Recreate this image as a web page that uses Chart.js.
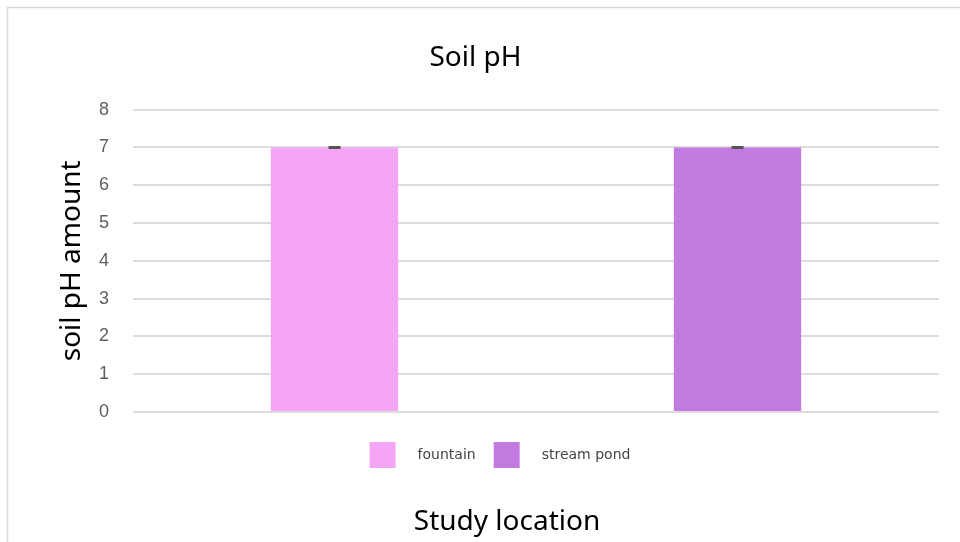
<!DOCTYPE html>
<html>
<head>
<meta charset="utf-8">
<script src="https://cdn.jsdelivr.net/npm/chart.js@4/dist/chart.umd.min.js"></script>
<style>
  html, body { margin: 0; padding: 0; background: #ffffff; }
  #wrap { width: 960px; height: 542px; position: relative; }
</style>
</head>
<body>
<div id="wrap"><canvas id="chart" width="960" height="542"></canvas></div>
<script>
// Study locations and their measured soil pH
const locations = ['fountain', 'stream pond'];
const phValues = [7, 7];
const phErrors = [0, 0];
const barColors = ['#f4a6f4', '#c27be0'];
const yTicks = [0, 1, 2, 3, 4, 5, 6, 7, 8];

const titleFont = "'Noto Sans', 'Open Sans', sans-serif";

// Light frame round the chart
const framePlugin = {
  id: 'frame',
  beforeDraw(chart) {
    const ctx = chart.ctx;
    ctx.save();
    ctx.fillStyle = '#ffffff';
    ctx.fillRect(0, 0, chart.width, chart.height);
    ctx.strokeStyle = '#d9d9d9';
    ctx.lineWidth = 1.5;
    ctx.strokeRect(7.5, 7.5, chart.width + 50, chart.height + 50);
    ctx.restore();
  }
};

// Error bar caps at each bar's value
const errorBarPlugin = {
  id: 'errorBars',
  afterDatasetsDraw(chart) {
    const ctx = chart.ctx;
    const meta = chart.getDatasetMeta(0);
    const y = chart.scales.y;
    ctx.save();
    ctx.strokeStyle = '#555555';
    ctx.lineWidth = 3;
    meta.data.forEach((bar, i) => {
      const v = phValues[i], e = phErrors[i];
      const yTop = y.getPixelForValue(v + e);
      const yBot = y.getPixelForValue(v - e);
      const half = 6;
      ctx.beginPath();
      ctx.moveTo(bar.x - half, yTop); ctx.lineTo(bar.x + half, yTop);
      ctx.moveTo(bar.x - half, yBot); ctx.lineTo(bar.x + half, yBot);
      ctx.moveTo(bar.x, yTop); ctx.lineTo(bar.x, yBot);
      ctx.stroke();
    });
    ctx.restore();
  }
};

// Legend swatches and the x-axis caption below the plot
const bottomTextPlugin = {
  id: 'bottomText',
  afterDraw(chart) {
    const ctx = chart.ctx;
    const area = chart.chartArea;
    ctx.save();
    // legend
    const box = 26, gapText = 22, gapItem = 18;
    ctx.font = "14px 'DejaVu Sans', sans-serif";
    const widths = locations.map(l => box + gapText + ctx.measureText(l).width);
    const total = widths.reduce((a, b) => a + b, 0) + gapItem * (locations.length - 1);
    let x = 500 - total / 2;
    const boxTop = area.bottom + 30;
    locations.forEach((l, i) => {
      ctx.fillStyle = barColors[i];
      ctx.fillRect(x, boxTop, box, box);
      ctx.fillStyle = '#444444';
      ctx.textBaseline = 'middle';
      ctx.textAlign = 'left';
      ctx.fillText(l, x + box + gapText, boxTop + box / 2);
      x += widths[i] + gapItem;
    });
    // x-axis caption
    ctx.font = "28px " + titleFont;
    ctx.fillStyle = '#000000';
    ctx.textAlign = 'center';
    ctx.textBaseline = 'middle';
    ctx.fillText('Study location', 507, area.bottom + 110);
    ctx.restore();
  }
};

new Chart(document.getElementById('chart'), {
  type: 'bar',
  data: {
    labels: locations,
    datasets: [{
      label: 'soil pH',
      data: phValues,
      backgroundColor: barColors,
      borderWidth: 0,
      barPercentage: 0.316,
      categoryPercentage: 1.0
    }]
  },
  options: {
    responsive: false,
    animation: false,
    devicePixelRatio: 1,
    layout: { padding: { left: 12, right: 21, top: 0, bottom: 122 } },
    plugins: {
      legend: { display: false },
      tooltip: { enabled: false },
      title: {
        display: true,
        text: 'Soil pH',
        color: '#000000',
        font: { family: titleFont, size: 28, weight: 'normal', lineHeight: 1.2 },
        padding: { top: 41, bottom: 35 }
      }
    },
    scales: {
      x: {
        ticks: { display: false },
        grid: { display: false },
        border: { display: false }
      },
      y: {
        min: 0,
        max: 8,
        afterBuildTicks(scale) { scale.ticks = yTicks.map(v => ({ value: v })); },
        afterFit(scale) { scale.width = 121; },
        ticks: {
          color: '#5f5f5f',
          padding: 24,
          font: { family: "'Liberation Sans', Arial, sans-serif", size: 18 }
        },
        grid: { color: '#dddddd', lineWidth: 2, drawTicks: false },
        border: { display: false },
        title: {
          display: true,
          text: 'soil pH amount',
          color: '#000000',
          font: { family: titleFont, size: 28, weight: 'normal', lineHeight: 1.2 },
          padding: { top: 43, bottom: 11 }
        }
      }
    }
  },
  plugins: [framePlugin, errorBarPlugin, bottomTextPlugin]
});
</script>
</body>
</html>
